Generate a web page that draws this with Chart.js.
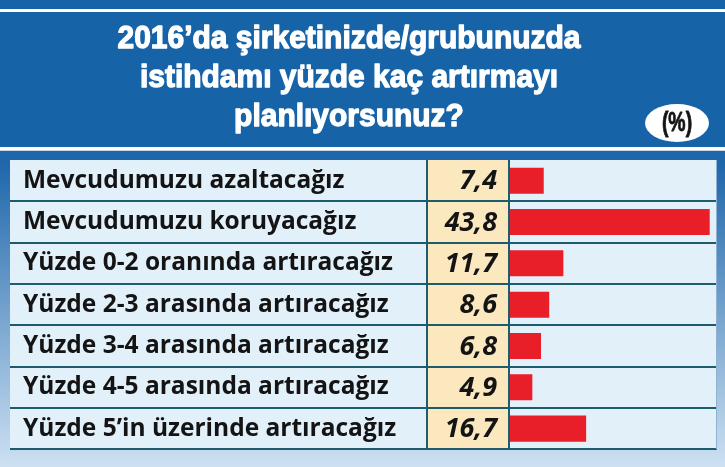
<!DOCTYPE html>
<html lang="tr">
<head>
<meta charset="utf-8">
<title>2016 istihdam planı</title>
<script src="https://cdn.jsdelivr.net/npm/chart.js@4.4.1/dist/chart.umd.min.js"></script>
<style>
  html, body { margin: 0; padding: 0; background: #1a62a6; }
  #wrap { position: relative; width: 725px; height: 467px; }
</style>
</head>
<body>
<div id="wrap"><canvas id="planChart"></canvas></div>
<script>
// ===============================
// Data
// ===============================
const titleLines = [
  "2016’da şirketinizde/grubunuzda",
  "istihdamı yüzde kaç artırmayı",
  "planlıyorsunuz?"
];
const unitLabel = "(%)";

const categories = [
  "Mevcudumuzu azaltacağız",
  "Mevcudumuzu koruyacağız",
  "Yüzde 0-2 oranında artıracağız",
  "Yüzde 2-3 arasında artıracağız",
  "Yüzde 3-4 arasında artıracağız",
  "Yüzde 4-5 arasında artıracağız",
  "Yüzde 5’in üzerinde artıracağız"
];
const values = [7.4, 43.8, 11.7, 8.6, 6.8, 4.9, 16.7];

// ===============================
// Colors
// ===============================
const COLORS = {
  header: "#1763a7",
  cell: "#e2f0fa",
  valueCell: "#fce8bf",
  rule: "#1d5c6c",
  bar: "#e81e29",
  text: "#141414"
};

const TABLE_LEFT = 10;
const TABLE_RIGHT = 717;
const VALUE_LEFT = 427;
const VALUE_RIGHT = 509;

function fmt(v) {
  return v.toFixed(1).replace(".", ",");
}

// condensed text: Liberation Sans squeezed horizontally
function narrowText(ctx, text, x, y, sx, stroke) {
  ctx.save();
  ctx.translate(x, y);
  ctx.scale(sx, 1);
  if (stroke) ctx.strokeText(text, 0, 0);
  ctx.fillText(text, 0, 0);
  ctx.restore();
}

/* -----------------------------------------------------
   background, header and table cells
----------------------------------------------------- */
const tablePlugin = {
  id: "tablePlugin",
  beforeDraw(chart) {
    const { ctx, width, height, chartArea, scales } = chart;
    ctx.save();

    // margin gradient
    const g = ctx.createLinearGradient(0, 0, 0, height);
    g.addColorStop(0, "#1a62a6");
    g.addColorStop(0.35, "#1f67ab");
    g.addColorStop(1, "#cde1f2");
    ctx.fillStyle = g;
    ctx.fillRect(0, 0, width, height);

    // header band
    ctx.fillStyle = COLORS.header;
    ctx.fillRect(0, 0, width, 146);
    ctx.fillStyle = "#ffffff";
    ctx.fillRect(0, 9, width, 3);
    ctx.fillRect(0, 147, width, 3);
    ctx.fillStyle = "#c9d6e2";
    ctx.fillRect(0, 150, width, 1);

    // title
    ctx.fillStyle = "#ffffff";
    ctx.strokeStyle = "#ffffff";
    ctx.lineWidth = 1.3;
    ctx.lineJoin = "round";
    ctx.textAlign = "center";
    ctx.textBaseline = "alphabetic";
    ctx.font = "bold 32px 'Liberation Sans'";
    const sx = 463 / ctx.measureText(titleLines[0]).width;
    const baselines = [48, 87, 126];
    titleLines.forEach((t, i) => narrowText(ctx, t, 349, baselines[i], sx, true));

    // (%) oval
    ctx.beginPath();
    ctx.ellipse(677, 123, 32, 19, 0, 0, Math.PI * 2);
    ctx.fillStyle = "#ffffff";
    ctx.fill();
    ctx.fillStyle = COLORS.text;
    ctx.strokeStyle = COLORS.text;
    ctx.lineWidth = 0.8;
    ctx.font = "bold 27px 'Liberation Sans'";
    ctx.textBaseline = "middle";
    narrowText(ctx, unitLabel, 677, 124, 0.72, true);

    // table cells
    const top = chartArea.top;
    const bottom = chartArea.bottom;
    ctx.fillStyle = COLORS.cell;
    ctx.fillRect(TABLE_LEFT, top, TABLE_RIGHT - TABLE_LEFT, bottom - top);
    ctx.fillStyle = COLORS.valueCell;
    ctx.fillRect(VALUE_LEFT, top, VALUE_RIGHT - VALUE_LEFT, bottom - top);

    // row rules
    const y = scales.y;
    const rowH = (bottom - top) / categories.length;
    ctx.fillStyle = COLORS.rule;
    categories.forEach((c, i) => {
      const yy = y.getPixelForValue(i) + rowH / 2;
      ctx.fillRect(TABLE_LEFT, Math.round(yy) - 1, TABLE_RIGHT - TABLE_LEFT, 2);
    });
    ctx.fillRect(VALUE_LEFT - 1, top, 2, bottom - top);
    ctx.fillRect(VALUE_RIGHT - 1, top, 2, bottom - top);

    ctx.fillStyle = "#8fb2d3";
    ctx.fillRect(TABLE_RIGHT - 1, top, 1, bottom - top);

    ctx.restore();
  },
  afterDatasetsDraw(chart) {
    const { ctx, scales } = chart;
    ctx.save();
    ctx.fillStyle = COLORS.text;
    ctx.font = "italic bold 27px 'Open Sans'";
    ctx.textAlign = "right";
    ctx.textBaseline = "middle";
    values.forEach((v, i) => {
      ctx.fillText(fmt(v), 497, scales.y.getPixelForValue(i) + 1);
    });
    ctx.restore();
  }
};

/* -----------------------------------------------------
   chart
----------------------------------------------------- */
function drawChart() {
  new Chart(document.getElementById("planChart"), {
    type: "bar",
    data: {
      labels: categories,
      datasets: [{
        data: values,
        backgroundColor: COLORS.bar,
        borderWidth: 0,
        barPercentage: 0.63,
        categoryPercentage: 1
      }]
    },
    options: {
      indexAxis: "y",
      responsive: true,
      maintainAspectRatio: false,
      animation: false,
      layout: { padding: { top: 160, bottom: 5, left: 23, right: 8 } },
      plugins: {
        legend: { display: false },
        tooltip: { enabled: false }
      },
      scales: {
        x: { display: false, min: 0, max: 45.4 },
        y: {
          grid: { display: false },
          border: { display: false },
          afterFit: (s) => { s.width = 510 - 23; },
          ticks: {
            crossAlign: "far",
            color: COLORS.text,
            font: { family: "'Open Sans'", size: 24.5, weight: "bold" }
          }
        }
      }
    },
    plugins: [tablePlugin]
  });
}

Promise.all([
  document.fonts.load("bold 32px 'Liberation Sans'"),
  document.fonts.load("bold 24px 'Open Sans'"),
  document.fonts.load("italic bold 27px 'Open Sans'")
]).catch(() => {}).then(drawChart);
</script>
</body>
</html>
